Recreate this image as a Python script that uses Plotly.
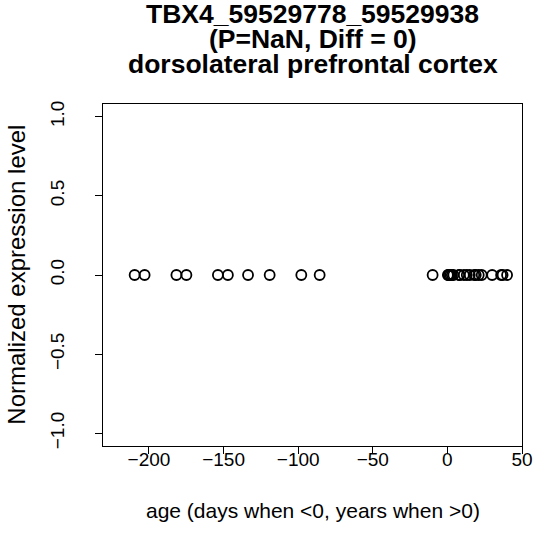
import plotly.graph_objects as go

# data
prenatal_age = [-209.6, -202.9, -181.6, -174.9, -153.8, -147.1, -133.6, -119.1, -97.9, -85.6]
postnatal_age = [-9.9, 0.33, 0.83, 1, 2, 3, 4, 8, 8, 11, 13, 15, 18, 19, 21, 23, 30, 36, 37, 40]
ages = prenatal_age + postnatal_age
expression = [0.0] * len(ages)

x_ticks = [-200, -150, -100, -50, 0, 50]
x_tick_text = ["\u2212200", "\u2212150", "\u2212100", "\u221250", "0", "50"]
y_ticks = [-1.0, -0.5, 0.0, 0.5, 1.0]
y_tick_text = ["\u22121.0", "\u22120.5", "0.0", "0.5", "1.0"]

title_lines = ["TBX4_59529778_59529938", "(P=NaN, Diff = 0)", "dorsolateral prefrontal cortex"]
x_title = "age (days when <0, years when >0)"
y_title = "Normalized expression level"

font = "Liberation Sans, Arial, Helvetica, sans-serif"
TICK = 19
XT = 21
YT = 24
TT = 26.5

fig = go.Figure()
fig.add_trace(go.Scatter(
    x=ages, y=expression, mode="markers",
    marker=dict(symbol="circle-open", size=10, color="black", line=dict(width=1.8, color="black")),
    showlegend=False, hoverinfo="x+y",
))

W, H = 536, 553
L, R, T, B = 103.3, 13.7, 104.3, 107.3
ph = H - T - B
pw = W - L - R

def py(pix):
    return (H - B - pix) / ph

def px(pix):
    return (pix - L) / pw

annotations = []
for line, ypix in zip(title_lines, [14, 39, 64]):
    annotations.append(dict(text="<b>%s</b>" % line, x=0.5, xref="paper", y=py(ypix), yref="paper",
                            showarrow=False, font=dict(family=font, size=TT, color="black"),
                            xanchor="center", yanchor="middle"))
annotations.append(dict(text=x_title, x=0.5, xref="paper", y=py(510), yref="paper", showarrow=False,
                        font=dict(family=font, size=XT, color="black"), xanchor="center", yanchor="middle"))
annotations.append(dict(text=y_title, x=px(16), xref="paper", y=0.5, yref="paper", showarrow=False,
                        textangle=-90, font=dict(family=font, size=YT, color="black"),
                        xanchor="center", yanchor="middle"))

fig.update_layout(
    width=W, height=H,
    margin=dict(l=L, r=R, t=T, b=B, pad=0, autoexpand=False),
    paper_bgcolor="white", plot_bgcolor="white",
    font=dict(family=font, size=TICK, color="black"),
    annotations=annotations,
    xaxis=dict(range=[-230.8, 50], tickvals=x_ticks, ticktext=x_tick_text, ticks="outside", ticklen=7,
               tickwidth=1, tickcolor="black", showgrid=False, zeroline=False, showline=True,
               linecolor="black", linewidth=1, mirror=True, tickfont=dict(size=TICK),
               automargin=False, ticklabelstandoff=-11),
    yaxis=dict(range=[-1.08, 1.08], tickvals=y_ticks, ticktext=y_tick_text, ticks="outside", ticklen=7,
               tickwidth=1, tickcolor="black", showgrid=False, zeroline=False, showline=True,
               linecolor="black", linewidth=1, mirror=True, tickangle=-90, tickfont=dict(size=TICK),
               automargin=False, ticklabelstandoff=23),
)

fig.write_html("out.html", config={"displayModeBar": False},
               post_script="document.body.style.margin='0';document.body.style.overflow='hidden';")
